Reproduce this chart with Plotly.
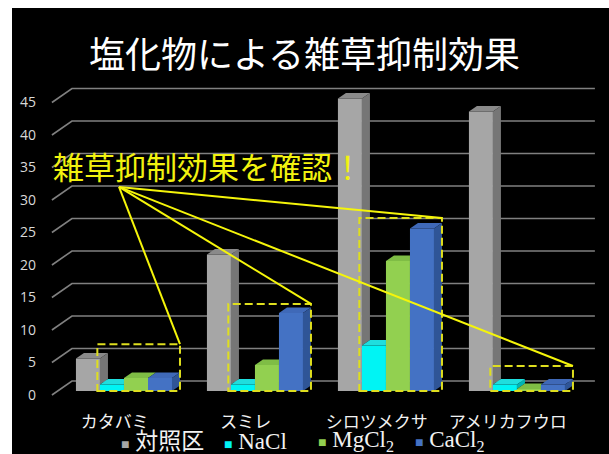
import plotly.graph_objects as go

# ---- data -------------------------------------------------------------
categories = ["カタバミ", "スミレ", "シロツメクサ", "アメリカフウロ"]
series_names = ["対照区", "NaCl", "MgCl<sub>2</sub>", "CaCl<sub>2</sub>"]
control = [5, 21, 45, 43]
nacl = [1, 1, 7, 1]
mgcl2 = [2, 4, 20, 0.3]
cacl2 = [2, 12, 25, 1]
y_ticks = [0, 5, 10, 15, 20, 25, 30, 35, 40, 45]

series_values = [control, nacl, mgcl2, cacl2]

# front / top / side face colours of each series
front_colors = ["#a6a6a6", "#00f4f4", "#92d050", "#4472c4"]
top_colors = ["#8a8a8a", "#1fdede", "#7fbd45", "#3f69b8"]
side_colors = ["#767676", "#00b4b4", "#6a9e3a", "#2f5597"]

# ---- geometry of the plotting area -----------------------------------
W, H = 609, 454
ML, MR, MT, MB = 40, 9, 80, 54
PLOT_W, PLOT_H = W - ML - MR, H - MT - MB
X_RANGE = [-0.641, 3.634]
Y_RANGE = [-1.385, 47.85]
PX_X = PLOT_W / (X_RANGE[1] - X_RANGE[0])
PX_Y = PLOT_H / (Y_RANGE[1] - Y_RANGE[0])

BAR_W = 0.1833                 # width of one bar in category units
DX = 8 / PX_X                  # receding depth of a bar (x)
DY = 5.6 / PX_Y                # receding depth of a bar (y)
FRONT_Y = 4 / PX_Y             # front edge of the floor below the bar base
BACK_Y = 10 / PX_Y             # back wall above the bar base
WALL_FRONT_X, WALL_BACK_X, GRID_END_X = -0.55, -0.397, 3.595
LABEL_SHIFT = -0.07


def px_to_paper_x(px):
    return (px - ML) / PLOT_W


def px_to_paper_y(py):
    return (H - MB - py) / PLOT_H


fig = go.Figure()

# front faces of the bars
for k, vals in enumerate(series_values):
    fig.add_trace(go.Bar(
        x=list(range(len(categories))), y=vals,
        width=BAR_W, offset=(k - 2) * BAR_W,
        marker=dict(color=front_colors[k], line=dict(width=0)),
        name=series_names[k], showlegend=False, hoverinfo="skip",
    ))

# top and side faces (only the parts not hidden by the neighbouring bar)
for k, vals in enumerate(series_values):
    tx, ty, sx, sy = [], [], [], []
    for i, v in enumerate(vals):
        left = i + (k - 2) * BAR_W
        right = left + BAR_W
        nxt = series_values[k + 1][i] if k < 3 else None
        u = v if nxt is None else min(max(nxt, v), v + DY)
        tx += [left, right, right, right + DX * (v + DY - u) / DY, left + DX, left, None]
        ty += [v, v, u, v + DY, v + DY, v, None]
        s = 0 if nxt is None else nxt
        if s < v:
            sx += [right, right, right + DX, right + DX, right, None]
            sy += [s, v, v + DY, s + DY, s, None]
    fig.add_trace(go.Scatter(x=tx, y=ty, mode="lines", fill="toself",
                             fillcolor=top_colors[k], line=dict(width=0),
                             showlegend=False, hoverinfo="skip"))
    if sx:
        fig.add_trace(go.Scatter(x=sx, y=sy, mode="lines", fill="toself",
                                 fillcolor=side_colors[k], line=dict(width=0),
                                 showlegend=False, hoverinfo="skip"))

shapes = []
# black slide background
shapes.append(dict(type="rect", xref="paper", yref="paper", layer="below",
                   x0=px_to_paper_x(12), x1=px_to_paper_x(W + 5),
                   y0=px_to_paper_y(H + 5), y1=px_to_paper_y(8),
                   fillcolor="black", line=dict(width=0)))
# 3-D gridlines: floor edge -> back wall -> across
for t in y_ticks:
    shapes.append(dict(
        type="path", xref="x", yref="y", layer="below",
        path=f"M {WALL_FRONT_X},{t - FRONT_Y} L {WALL_BACK_X},{t + BACK_Y} L {GRID_END_X},{t + BACK_Y}",
        line=dict(color="#808080", width=1.6),
    ))

# callout boxes around the treated bars, and pointer lines
box_tops = [7.2, 13.4, 26.6, 3.85]
apex = (-0.038, 31.4)
for i, top in enumerate(box_tops):
    x0 = i - BAR_W - 0.02
    x1 = i + 2 * BAR_W + DX
    shapes.append(dict(type="rect", xref="x", yref="y", x0=x0, x1=x1, y0=0, y1=top,
                       line=dict(color="#dede1e", width=2, dash="8px,4px")))
    shapes.append(dict(type="line", xref="x", yref="y", x0=apex[0], y0=apex[1],
                       x1=x1, y1=top, line=dict(color="#f5f50a", width=2)))

annotations = [dict(
    text="雑草抑制効果を確認！", xref="paper", yref="paper",
    x=px_to_paper_x(51), y=px_to_paper_y(165), xanchor="left", yanchor="middle",
    showarrow=False, font=dict(family="Noto Sans CJK JP", size=31, color="#f2f20f"),
)]

# legend row
legend_x = [119, 222, 316, 413]
for k, name in enumerate(series_names):
    annotations.append(dict(
        text=f'<span style="color:{front_colors[k]};font-size:14px">■</span> {name}',
        xref="paper", yref="paper", x=px_to_paper_x(legend_x[k]), y=px_to_paper_y(441),
        xanchor="left", yanchor="middle", showarrow=False,
        font=dict(family="Liberation Serif, Noto Sans CJK JP", size=23, color="#f2f2f2"),
    ))

fig.update_layout(
    width=W, height=H,
    margin=dict(l=ML, r=MR, t=MT, b=MB),
    paper_bgcolor="white", plot_bgcolor="rgba(0,0,0,0)",
    barmode="overlay",
    title=dict(text="塩化物による雑草抑制効果", x=0.5, xref="container",
               y=1 - 55 / H, yref="container", xanchor="center", yanchor="middle",
               font=dict(family="Noto Sans CJK JP", size=36, color="white")),
    xaxis=dict(range=X_RANGE, showgrid=False, zeroline=False, showline=False,
               tickvals=[i + LABEL_SHIFT for i in range(len(categories))],
               ticktext=categories, ticks="", ticklabelstandoff=10,
               tickfont=dict(family="Noto Sans CJK JP", size=17, color="#f2f2f2")),
    yaxis=dict(range=Y_RANGE, showgrid=False, zeroline=False, showline=False,
               tickvals=[t - FRONT_Y for t in y_ticks],
               ticktext=[str(t) for t in y_ticks], ticks="", ticklabelstandoff=3,
               tickfont=dict(family="Open Sans", size=14, color="#d9d9d9")),
    shapes=shapes,
    annotations=annotations,
)

fig.write_html("out.html")
